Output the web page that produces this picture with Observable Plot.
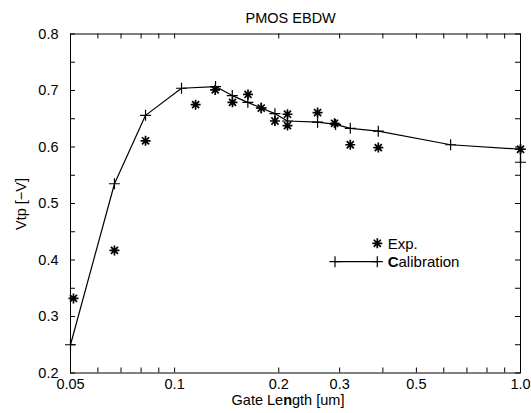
<!DOCTYPE html>
<html><head><meta charset="utf-8">
<script src="https://cdn.jsdelivr.net/npm/d3@7"></script>
<script src="https://cdn.jsdelivr.net/npm/@observablehq/plot@0.6"></script>
<style>body{margin:0;background:#fff}</style>
</head><body><div id="chart"></div><script>
const title = "PMOS EBDW";
const xLabel = "Gate Length [um]";
const yLabel = "Vtp [−V]";
const legendExp = "Exp.";
const legendCal = "Calibration";

// Exp. (asterisks)
const expX = [0.051, 0.067, 0.0824, 0.115, 0.131, 0.147, 0.163, 0.178, 0.195, 0.212, 0.212, 0.259, 0.290, 0.322, 0.388, 1.0];
const expY = [0.332, 0.417, 0.611, 0.675, 0.701, 0.679, 0.693, 0.669, 0.646, 0.658, 0.638, 0.661, 0.642, 0.604, 0.599, 0.596];

// Calibration (line with + markers)
const calX = [0.05, 0.067, 0.0824, 0.1047, 0.1313, 0.1468, 0.1628, 0.178, 0.195, 0.212, 0.259, 0.292, 0.322, 0.388, 0.628, 1.0, 1.0];
const calY = [0.250, 0.535, 0.656, 0.704, 0.707, 0.691, 0.679, 0.669, 0.659, 0.646, 0.644, 0.640, 0.633, 0.628, 0.604, 0.596, 0.573];

const xTickValues = [0.05, 0.07, 0.1, 0.2, 0.3, 0.5, 0.7, 1.0];
const xTickText = ["0.05", "0.07", "0.1", "0.2", "0.3", "0.5", "0.7", "1.0"];
const xMinorTicks = [0.05, 0.06, 0.07, 0.08, 0.09, 0.1, 0.2, 0.3, 0.4, 0.5, 0.6, 0.7, 0.8, 0.9, 1.0];
const yTickValues = [0.2, 0.3, 0.4, 0.5, 0.6, 0.7, 0.8];
const yTickText = ["0.2", "0.3", "0.4", "0.5", "0.6", "0.7", "0.8"];
const yMinorTicks = [0.2, 0.25, 0.3, 0.35, 0.4, 0.45, 0.5, 0.55, 0.6, 0.65, 0.7, 0.75, 0.8];

const W = 531, H = 413, mL = 70, mR = 11, mT = 33.5, mB = 40.5;
const fw = W - mL - mR, fh = H - mT - mB;
const FONT = '"Liberation Sans", Arial, Helvetica, sans-serif';

const star = {draw(ctx, size) {
  const r = Math.sqrt(size / Math.PI), d = r * Math.SQRT1_2;
  ctx.moveTo(-r, 0); ctx.lineTo(r, 0);
  ctx.moveTo(0, -r); ctx.lineTo(0, r);
  ctx.moveTo(-d, -d); ctx.lineTo(d, d);
  ctx.moveTo(-d, d); ctx.lineTo(d, -d);
}};
const plus = {draw(ctx, size) {
  const r = Math.sqrt(size / Math.PI);
  ctx.moveTo(-r, 0); ctx.lineTo(r, 0);
  ctx.moveTo(0, -r); ctx.lineTo(0, r);
}};

const exp = expX.map((x, i) => ({x, y: expY[i]}));
const cal = calX.map((x, i) => ({x, y: calY[i]}));
const xFmt = new Map(xTickValues.map((v, i) => [v, xTickText[i]]));
const yFmt = new Map(yTickValues.map((v, i) => [v, yTickText[i]]));

const chart = Plot.plot({
  width: W, height: H,
  marginLeft: mL, marginRight: mR, marginTop: mT, marginBottom: mB,
  style: {fontFamily: FONT, fontSize: "14.5px", color: "#000", background: "#fff", overflow: "visible"},
  x: {type: "log", domain: [0.05, 1.0], ticks: xTickValues, tickFormat: d => xFmt.get(d), tickSize: 0, tickPadding: 6, label: null},
  y: {domain: [0.2, 0.8], ticks: yTickValues, tickFormat: d => yFmt.get(d), tickSize: 0, tickPadding: 12, label: null},
  marks: [
    Plot.frame({stroke: "#000", strokeWidth: 1}),
    Plot.tickX(xMinorTicks, {x: d => d, insetTop: fh - 5, stroke: "#000"}),
    Plot.tickX(xMinorTicks, {x: d => d, insetBottom: fh - 5, stroke: "#000"}),
    Plot.tickY(yMinorTicks, {y: d => d, insetRight: fw - 5, stroke: "#000"}),
    Plot.tickY(yMinorTicks, {y: d => d, insetLeft: fw - 5, stroke: "#000"}),
    Plot.line(cal, {x: "x", y: "y", stroke: "#000", strokeWidth: 1.2}),
    Plot.dot(cal, {x: "x", y: "y", symbol: plus, r: 5.5, stroke: "#000", fill: "none", strokeWidth: 1.2}),
    Plot.dot(exp, {x: "x", y: "y", symbol: star, r: 5, stroke: "#000", fill: "none", strokeWidth: 1.7})
  ]
});
document.getElementById("chart").appendChild(chart);

const svg = d3.select(chart);
const g = svg.append("g").attr("font-family", FONT).attr("font-size", 14.5).attr("fill", "#000");
g.append("text").attr("x", 290.7).attr("y", 22.7).attr("text-anchor", "middle").text(title);
const xl = g.append("text").attr("x", 288).attr("y", 404.5).attr("text-anchor", "middle");
xl.append("tspan").text(xLabel.slice(0, 7));
xl.append("tspan").attr("font-weight", "bold").text(xLabel.slice(7, 8));
xl.append("tspan").text(xLabel.slice(8));
g.append("text").attr("transform", "translate(26,204) rotate(-90)").attr("text-anchor", "middle").text(yLabel);

// legend
const lg = svg.append("g").attr("font-family", FONT).attr("font-size", 15).attr("fill", "#000");
const starPath = d3.symbol(star, Math.PI * 25)();
const plusPath = d3.symbol(plus, Math.PI * 5.5 * 5.5)();
lg.append("path").attr("d", starPath).attr("transform", "translate(377.3,243.3)").attr("stroke", "#000").attr("fill", "none").attr("stroke-width", 1.7);
lg.append("text").attr("x", 387.7).attr("y", 243.3).attr("dy", "0.35em").attr("text-anchor", "start").text(legendExp);
lg.append("line").attr("x1", 335).attr("x2", 377.3).attr("y1", 261.7).attr("y2", 261.7).attr("stroke", "#000").attr("stroke-width", 1.2);
lg.append("path").attr("d", plusPath).attr("transform", "translate(335,261.7)").attr("stroke", "#000").attr("fill", "none").attr("stroke-width", 1.2);
lg.append("path").attr("d", plusPath).attr("transform", "translate(377.3,261.7)").attr("stroke", "#000").attr("fill", "none").attr("stroke-width", 1.2);
const ct = lg.append("text").attr("x", 387.7).attr("y", 261.7).attr("dy", "0.35em").attr("text-anchor", "start");
ct.append("tspan").attr("font-weight", "bold").text(legendCal.slice(0, 1));
ct.append("tspan").text(legendCal.slice(1));
</script></body></html>
